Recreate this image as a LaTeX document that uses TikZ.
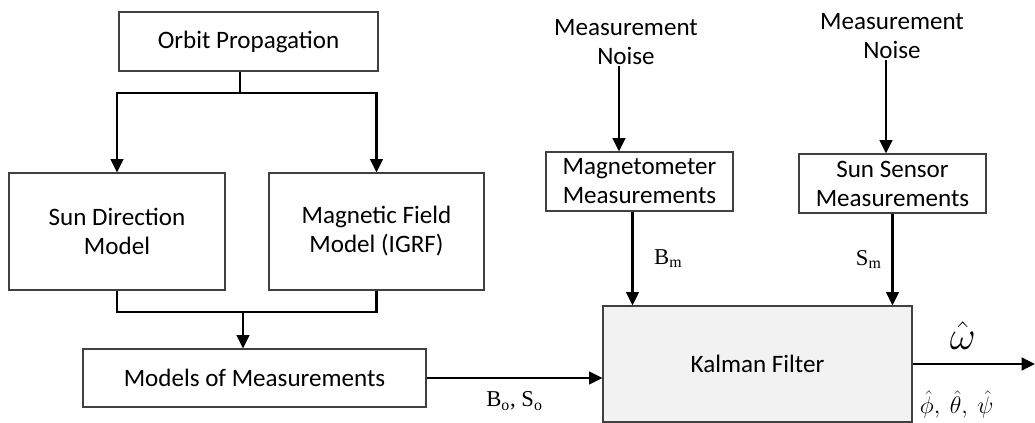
\documentclass[tikz,border=0pt]{standalone}
\usepackage{fix-cm}
\usepackage{fontspec}
\usepackage{amsmath}
\setmainfont{Carlito}
\newfontfamily\tnr{Liberation Serif}
\usetikzlibrary{positioning}
\usetikzlibrary{calc}
\usetikzlibrary{arrows.meta}
\definecolor{kfgray}{HTML}{F2F2F2}
\definecolor{edge}{HTML}{404040}
\tikzset{
  block/.style 2 args={draw=edge, line width=0.9pt, align=center, inner sep=0pt,
    minimum width=#1*0.75pt, minimum height=#2*0.75pt},
  wire/.style={line width=1.8pt},
  arr/.style={line width=1.8pt, -{Triangle[length=10pt,width=9.5pt]}},
  noise/.style={align=center, inner sep=1pt},
}

\begin{document}
\begin{tikzpicture}[x=0.75pt, y=-0.75pt, font=\fontsize{18.8}{21.8}\selectfont]
    \useasboundingbox (0,0) rectangle (1035,423);

    \node[block={259}{59}] (orbit) at (248.5,41.5) {Orbit Propagation};
    \node[block={216}{117}] (sundir) at (117,231.5) {Sun Direction\\Model};
    \node[block={215}{117}] (magfield) at (376.5,231.5) {Magnetic Field\\Model (IGRF)};
    \node[block={343}{58}] (models) at (254.5,378) {Models of Measurements};

    \node[block={187}{59}] (magmeas) at (639.5,181.5) {Magnetometer\\Measurements};
    \node[block={187}{59}] (sunmeas) at (892.5,183.5) {Sun Sensor\\Measurements};
    \node[block={309}{116}, fill=kfgray] (kalman) at (757.5,364) {Kalman Filter};

    \node[noise] (noise1) at (626,42) {Measurement\\Noise};
    \node[noise] (noise2) at (892,36) {Measurement\\Noise};

    \coordinate (split) at (240,93);
    \draw[wire] (orbit.south -| split) -- (split);
    \draw[arr] (split) -| (sundir.north);
    \draw[arr] (split) -| (magfield.north);

    \coordinate (join) at (243,312);
    \draw[wire] (sundir.south) |- (join) -| (magfield.south);
    \draw[arr] (join) -- (join |- models.north);

    \draw[arr] (models.east) -- (kalman.west |- models.east)
      node[midway, below=6pt] (bso) {\fontsize{17}{20}\selectfont\tnr B$_{\text{o}}$, S$_{\text{o}}$};

    \draw[arr] ($(noise1.south)+(-7,0)$) -- ($(noise1.south |- magmeas.north)+(-7,0)$);
    \draw[arr] ($(magmeas.south)+(-7,0)$) -- ($(magmeas.south |- kalman.north)+(-7,0)$)
      node[midway, right=12pt] (bm) {\fontsize{17}{20}\selectfont\tnr B$_{\text{m}}$};
    \draw[arr] ($(noise2.south)+(-6,0)$) -- ($(noise2.south |- sunmeas.north)+(-6,0)$);
    \draw[arr] (sunmeas.south) -- (sunmeas.south |- kalman.north)
      node[midway, left=4pt] (sm) {\fontsize{17}{20}\selectfont\tnr S$_{\text{m}}$};

    \coordinate (out) at (1035,364);
    \draw[arr] (kalman.east) -- (out)
      node[pos=0.41, above=7pt] (omega) {\fontsize{30}{32}\selectfont$\hat{\omega}$}
      node[pos=0.36, below=16pt] (euler) {\fontsize{18}{20}\selectfont$\hat{\phi},\ \hat{\theta},\ \hat{\psi}$};
\end{tikzpicture}
\end{document}
